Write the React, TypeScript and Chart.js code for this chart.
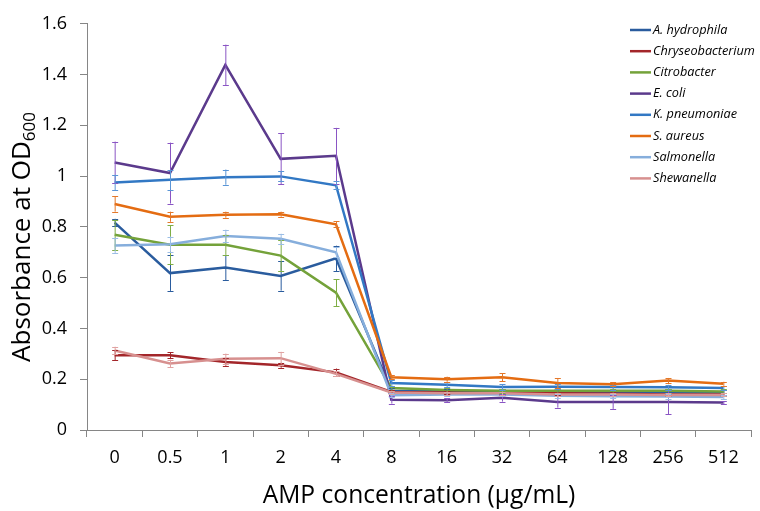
import React, { useEffect, useRef } from "react";
import { Chart, registerables } from "chart.js";

Chart.register(...registerables);

const categories = ["0", "0.5", "1", "2", "4", "8", "16", "32", "64", "128", "256", "512"];
const seriesNames = [
  "A. hydrophila",
  "Chryseobacterium",
  "Citrobacter",
  "E. coli",
  "K. pneumoniae",
  "S. aureus",
  "Salmonella",
  "Shewanella",
];

const aHydrophila = [0.817, 0.618, 0.64, 0.607, 0.676, 0.155, 0.152, 0.15, 0.15, 0.148, 0.15, 0.148];
const chryseobacterium = [0.294, 0.294, 0.268, 0.255, 0.227, 0.15, 0.148, 0.145, 0.145, 0.143, 0.14, 0.14];
const citrobacter = [0.769, 0.73, 0.73, 0.687, 0.541, 0.165, 0.158, 0.155, 0.155, 0.155, 0.155, 0.152];
const eColi = [1.054, 1.012, 1.438, 1.068, 1.08, 0.119, 0.117, 0.127, 0.11, 0.11, 0.11, 0.108];
const kPneumoniae = [0.975, 0.986, 0.996, 0.999, 0.964, 0.185, 0.178, 0.169, 0.17, 0.169, 0.168, 0.165];
const sAureus = [0.89, 0.84, 0.848, 0.85, 0.81, 0.208, 0.2, 0.208, 0.185, 0.18, 0.195, 0.182];
const salmonella = [0.727, 0.732, 0.764, 0.753, 0.7, 0.137, 0.14, 0.14, 0.135, 0.133, 0.132, 0.13];
const shewanella = [0.313, 0.262, 0.281, 0.283, 0.221, 0.148, 0.145, 0.145, 0.14, 0.14, 0.138, 0.138];

const aHydrophilaErr = [0.015, 0.07, 0.05, 0.058, 0.05, 0.01, 0.01, 0.01, 0.01, 0.01, 0.01, 0.01];
const chryseobacteriumErr = [0.02, 0.012, 0.015, 0.01, 0.015, 0.006, 0.006, 0.006, 0.006, 0.006, 0.006, 0.006];
const citrobacterErr = [0.06, 0.077, 0.04, 0.06, 0.053, 0.01, 0.008, 0.008, 0.008, 0.008, 0.008, 0.008];
const eColiErr = [0.082, 0.12, 0.08, 0.1, 0.11, 0.015, 0.008, 0.015, 0.022, 0.027, 0.047, 0.006];
const kPneumoniaeErr = [0.03, 0.04, 0.03, 0.02, 0.015, 0.01, 0.01, 0.012, 0.01, 0.01, 0.01, 0.008];
const sAureusErr = [0.03, 0.02, 0.012, 0.01, 0.012, 0.008, 0.01, 0.015, 0.02, 0.008, 0.01, 0.008];
const salmonellaErr = [0.03, 0.03, 0.025, 0.02, 0.02, 0.008, 0.008, 0.008, 0.008, 0.008, 0.008, 0.008];
const shewanellaErr = [0.015, 0.015, 0.02, 0.025, 0.01, 0.006, 0.006, 0.006, 0.006, 0.006, 0.006, 0.006];

const yTicks = [0, 0.2, 0.4, 0.6, 0.8, 1, 1.2, 1.4, 1.6];

const lineColors = ["#2A5C9E", "#A3262A", "#74A23A", "#5B3A8C", "#3278C4", "#E46C12", "#86AEDC", "#D7908F"];
const errColors = ["#2A5C9E", "#A3262A", "#7FAE45", "#8A55C4", "#5A95D6", "#E4782A", "#9CBEE6", "#E0A3A2"];

const FONT = "'Open Sans', sans-serif";

export default function App() {
  const ref = useRef<HTMLCanvasElement | null>(null);
  useEffect(() => {
    const values = [aHydrophila, chryseobacterium, citrobacter, eColi, kPneumoniae, sAureus, salmonella, shewanella];
    const errs = [aHydrophilaErr, chryseobacteriumErr, citrobacterErr, eColiErr, kPneumoniaeErr, sAureusErr, salmonellaErr, shewanellaErr];

    const extras = {
      id: "extras",
      afterDatasetsDraw(chart: any) {
        const ctx = chart.ctx;
        const ys = chart.scales.y;
        ctx.save();
        ctx.lineWidth = 1;
        values.forEach((vals, i) => {
          const meta = chart.getDatasetMeta(i);
          ctx.strokeStyle = errColors[i];
          vals.forEach((v, j) => {
            const x = meta.data[j].x;
            const t = ys.getPixelForValue(v + errs[i][j]);
            const b = ys.getPixelForValue(v - errs[i][j]);
            ctx.beginPath();
            ctx.moveTo(x + 0.5, t);
            ctx.lineTo(x + 0.5, b);
            ctx.moveTo(x - 2.5, Math.round(t) + 0.5);
            ctx.lineTo(x + 3.5, Math.round(t) + 0.5);
            ctx.moveTo(x - 2.5, Math.round(b) + 0.5);
            ctx.lineTo(x + 3.5, Math.round(b) + 0.5);
            ctx.stroke();
          });
        });
        ctx.restore();
      },
      afterDraw(chart: any) {
        const ctx = chart.ctx;
        ctx.save();
        // legend
        ctx.font = `italic 12.7px ${FONT}`;
        ctx.textBaseline = "middle";
        ctx.textAlign = "left";
        seriesNames.forEach((name, i) => {
          const y = 30 + i * 21.2;
          ctx.strokeStyle = lineColors[i];
          ctx.lineWidth = 2.5;
          ctx.beginPath();
          ctx.moveTo(630, y);
          ctx.lineTo(651, y);
          ctx.stroke();
          ctx.fillStyle = "#000";
          ctx.fillText(name, 653, y);
        });
        // x title
        ctx.fillStyle = "#000";
        ctx.font = `24.6px ${FONT}`;
        ctx.textAlign = "center";
        ctx.textBaseline = "alphabetic";
        ctx.fillText("AMP concentration (\u00b5g/mL)", 419, 503);
        // y title with subscript
        const main = "Absorbance at OD";
        const sub = "600";
        ctx.font = `26px ${FONT}`;
        const wMain = ctx.measureText(main).width;
        ctx.font = `17px ${FONT}`;
        const wSub = ctx.measureText(sub).width;
        const total = wMain + wSub;
        ctx.translate(30, 237);
        ctx.rotate(-Math.PI / 2);
        ctx.textAlign = "left";
        ctx.font = `26px ${FONT}`;
        ctx.fillText(main, -total / 2, 0);
        ctx.font = `17px ${FONT}`;
        ctx.fillText(sub, -total / 2 + wMain, 5);
        ctx.restore();
      },
    };

    const chart = new Chart(ref.current as HTMLCanvasElement, {
      type: "line",
      data: {
        labels: categories,
        datasets: values.map((vals, i) => ({
          label: seriesNames[i],
          data: vals,
          borderColor: lineColors[i],
          backgroundColor: lineColors[i],
          borderWidth: 2.5,
          pointRadius: 0,
          tension: 0,
          fill: false,
          order: 7 - i,
        })),
      },
      options: {
        animation: false,
        responsive: false,
        devicePixelRatio: 1,
        layout: { padding: { top: 14, right: 9, bottom: 0, left: 0 } },
        plugins: { legend: { display: false }, tooltip: { enabled: false }, title: { display: false } },
        scales: {
          x: {
            type: "category",
            offset: true,
            grid: { offset: true, drawOnChartArea: false, drawTicks: true, tickLength: 7, color: "#868686" },
            border: { color: "#868686", width: 1 },
            ticks: { color: "#000", font: { size: 18, family: FONT }, padding: 10, maxRotation: 0, autoSkip: false },
            afterFit(scale: any) {
              scale.height = 81;
            },
          },
          y: {
            min: 0,
            max: 1.6,
            afterBuildTicks(scale: any) {
              scale.ticks = yTicks.map((v) => ({ value: v }));
            },
            grid: { drawOnChartArea: false, drawTicks: true, tickLength: 7, color: "#868686" },
            border: { color: "#868686", width: 1 },
            ticks: {
              color: "#000",
              font: { size: 18, family: FONT },
              padding: 13,
              callback: (v: any) => String(Math.round(Number(v) * 10) / 10),
            },
            afterFit(scale: any) {
              scale.width = 87;
            },
          },
        },
      },
      plugins: [extras],
    });
    return () => chart.destroy();
  }, []);

  return (
    <div style={{ position: "fixed", left: 0, top: 0, width: 760, height: 511, background: "#fff" }}>
      <canvas ref={ref} width={760} height={511} style={{ width: 760, height: 511, display: "block" }} />
    </div>
  );
}
